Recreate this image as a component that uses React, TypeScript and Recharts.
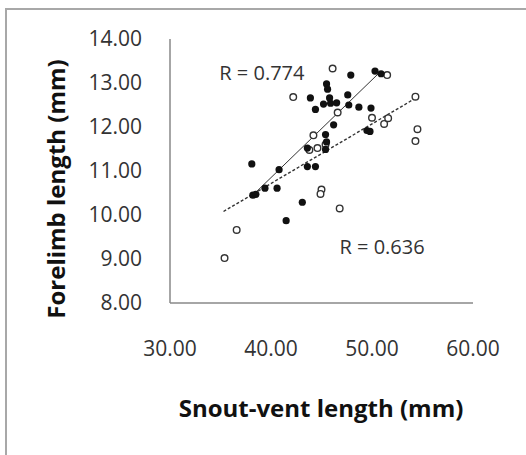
import React from 'react';
import { ScatterChart, Scatter, XAxis, YAxis, ReferenceLine, ReferenceDot, Label } from 'recharts';

const FONT = "'Open Sans', sans-serif";

const xTicks = [30, 40, 50, 60];
const yTicks = [8, 9, 10, 11, 12, 13, 14];

// Filled circles (group with R = 0.774)
const filledSvl = [
  38.1, 38.2, 38.5, 39.4, 40.6, 40.8, 41.5, 43.1, 43.6, 44.4, 43.6, 45.4, 45.4, 45.5,
  43.9, 44.4, 45.2, 45.9, 46.5, 45.5, 45.6, 45.8, 46.2, 47.6, 47.7, 47.9, 48.7, 49.9,
  49.5, 49.8, 50.3, 50.9,
];
const filledForelimb = [
  11.16, 10.45, 10.47, 10.61, 10.61, 11.03, 9.87, 10.29, 11.1, 11.1, 11.52, 11.49, 11.83, 11.66,
  12.66, 12.4, 12.52, 12.54, 12.55, 12.98, 12.86, 12.66, 12.05, 12.73, 12.5, 13.18, 12.45, 12.43,
  11.92, 11.9, 13.27, 13.21,
];

// Open circles (group with R = 0.636)
const openSvl = [
  35.4, 36.6, 42.2, 46.1, 44.2, 43.8, 44.6, 45.4, 45.0, 44.9, 46.8, 46.6, 50.0, 51.2,
  51.6, 51.5, 54.3, 54.5, 54.3,
];
const openForelimb = [
  9.02, 9.66, 12.68, 13.33, 11.81, 11.48, 11.52, 11.6, 10.58, 10.48, 10.15, 12.33, 12.21, 12.07,
  12.2, 13.18, 12.69, 11.95, 11.68,
];

// Trend line end points
const filledTrendSvl = [38.2, 50.8];
const filledTrendForelimb = [10.45, 13.25];
const openTrendSvl = [35.3, 54.5];
const openTrendForelimb = [10.08, 12.68];

// Correlation annotations
const rLabels = ['R = 0.774', 'R = 0.636'];
const rLabelSvl = [39.1, 51.0];
const rLabelForelimb = [13.22, 9.28];

const xTitle = 'Snout-vent length (mm)';
const yTitle = 'Forelimb length (mm)';

const filledData = filledSvl.map((x, i) => ({ x, y: filledForelimb[i] }));
const openData = openSvl.map((x, i) => ({ x, y: openForelimb[i] }));

const FilledDot = (p: any) => <circle cx={p.cx} cy={p.cy} r={3.6} fill="#111" />;
const OpenDot = (p: any) => (
  <circle cx={p.cx} cy={p.cy} r={3.3} fill="#fff" stroke="#333" strokeWidth={1.4} />
);

const YTitle = () => (
  <text
    x={55}
    y={189}
    transform="rotate(-90, 55, 189)"
    textAnchor="middle"
    dominantBaseline="central"
    fontFamily={FONT}
    fontWeight={700}
    fontSize={24}
    fill="#111"
  >
    {yTitle}
  </text>
);

const XTitle = () => (
  <text
    x={321}
    y={407}
    textAnchor="middle"
    dominantBaseline="central"
    fontFamily={FONT}
    fontWeight={700}
    fontSize={24}
    fill="#111"
  >
    {xTitle}
  </text>
);

export default function App() {
  return (
    <div style={{ position: 'absolute', left: 0, top: 0, width: 526, height: 455, background: '#fff' }}>
      <div
        style={{
          position: 'absolute',
          left: 5,
          top: 8,
          width: 521,
          height: 447,
          borderLeft: '2px solid #a8a8a8',
          borderTop: '2px solid #a8a8a8',
          boxSizing: 'border-box',
        }}
      />
      <div style={{ position: 'absolute', left: 0, top: 0 }}>
        <ScatterChart width={526} height={455} margin={{ top: 39, right: 53, bottom: 0, left: 0 }}>
          <XAxis
            type="number"
            dataKey="x"
            domain={[30, 60]}
            ticks={xTicks}
            tickFormatter={(v: number) => v.toFixed(2)}
            axisLine={{ stroke: '#888', strokeWidth: 1.5 }}
            tickLine={false}
            tickSize={0}
            tickMargin={38}
            height={152}
            tick={{ fill: '#333', fontSize: 21, fontFamily: FONT }}
            interval={0}
          >
            <Label content={<XTitle />} />
          </XAxis>
          <YAxis
            type="number"
            dataKey="y"
            domain={[8, 14]}
            ticks={yTicks}
            tickFormatter={(v: number) => v.toFixed(2)}
            axisLine={{ stroke: '#888', strokeWidth: 1.5 }}
            tickLine={false}
            tickSize={0}
            tickMargin={28}
            width={170}
            tick={{ fill: '#333', fontSize: 21, fontFamily: FONT }}
            interval={0}
          >
            <Label content={<YTitle />} />
          </YAxis>
          <Scatter data={openData} shape={OpenDot} isAnimationActive={false} />
          <Scatter data={filledData} shape={FilledDot} isAnimationActive={false} />
          <ReferenceLine
            segment={[
              { x: filledTrendSvl[0], y: filledTrendForelimb[0] },
              { x: filledTrendSvl[1], y: filledTrendForelimb[1] },
            ]}
            stroke="#333"
            strokeWidth={1}
          />
          <ReferenceLine
            segment={[
              { x: openTrendSvl[0], y: openTrendForelimb[0] },
              { x: openTrendSvl[1], y: openTrendForelimb[1] },
            ]}
            stroke="#333"
            strokeWidth={1.4}
            strokeDasharray="3 2"
          />
          {rLabels.map((t, i) => (
            <ReferenceDot
              key={t}
              x={rLabelSvl[i]}
              y={rLabelForelimb[i]}
              r={0}
              fill="none"
              stroke="none"
              label={{ value: t, position: 'center', fill: '#333', fontSize: 20, fontFamily: FONT }}
            />
          ))}
        </ScatterChart>
      </div>
    </div>
  );
}
